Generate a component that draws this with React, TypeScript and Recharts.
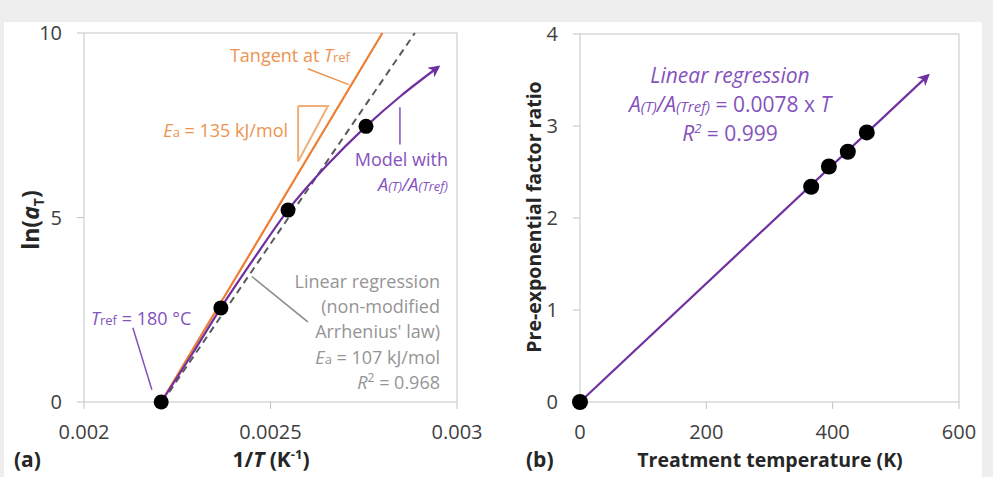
import { ComposedChart, Line, Scatter, XAxis, YAxis, ReferenceLine } from 'recharts'

// panel (a): ln(aT) versus 1/T
const invT = [0.002207, 0.002367, 0.002547, 0.002756]
const lnAT = [0, 2.55, 5.2, 7.47]
const modelInvT = [0.002207, 0.00229, 0.002367, 0.00246, 0.002547, 0.00265, 0.002756, 0.00285, 0.00295]
const modelLnAT = [0, 1.3, 2.55, 3.95, 5.2, 6.4, 7.47, 8.3, 9.08]
const tangentInvT = [0.002207, 0.0028]
const tangentLnAT = [0, 10]
const regInvT = [0.00221, 0.002887]
const regLnAT = [0, 10]
const slopeInvT = [0.002574, 0.002654, 0.002574, 0.002574]
const slopeLnAT = [8.02, 8.02, 6.52, 8.02]
const ticksA_x = [0.002, 0.0025, 0.003]
const ticksA_y = [0, 5, 10]

// panel (b): pre-exponential factor ratio versus treatment temperature
const tempK = [0, 366, 394, 424, 454]
const ratio = [0, 2.34, 2.56, 2.72, 2.93]
const fitTempK = [0, 551]
const fitRatio = [0, 3.55]
const ticksB_x = [0, 200, 400, 600]
const ticksB_y = [0, 1, 2, 3, 4]

const zip = (xs: number[], ys: number[]) => xs.map((x, i) => ({ x, y: ys[i] }))

const FONT = '"Open Sans", sans-serif'
const PURPLE = '#7030A0'
const PURPLE_TXT = '#8452BC'
const ORANGE = '#ED7D31'
const ORANGE_TXT = '#EC9450'
const GREY_TXT = '#959595'
const BORDER = '#c4c4c4'
const tickStyle = { fontSize: 20, fill: '#404040', fontFamily: FONT }

const dotShape = (r: number) => (p: any) => <circle cx={p.cx} cy={p.cy} r={r} fill="#000" />

function PanelA() {
  return (
    <ComposedChart width={490} height={477} margin={{ top: 33, right: 33, left: 0, bottom: 35 }}>
      <defs>
        <marker id="arrowA" viewBox="0 0 10 10" refX="8" refY="5" markerUnits="userSpaceOnUse"
          markerWidth="15" markerHeight="12" orient="auto">
          <path d="M0,0 L10,5 L0,10 L3,5 z" fill={PURPLE} />
        </marker>
      </defs>
      <XAxis type="number" dataKey="x" domain={[0.002, 0.003]} ticks={ticksA_x} tickFormatter={(v) => String(v)}
        height={40} tickSize={7} tickMargin={16} tick={tickStyle}
        axisLine={{ stroke: BORDER }} tickLine={{ stroke: BORDER }} />
      <YAxis type="number" domain={[0, 10]} ticks={ticksA_y} width={84} tickSize={7} tickMargin={15}
        tick={tickStyle} axisLine={{ stroke: BORDER }} tickLine={{ stroke: BORDER }} />
      <ReferenceLine y={10} stroke={BORDER} />
      <ReferenceLine x={0.003} stroke={BORDER} />

      <Line data={zip(regInvT, regLnAT)} dataKey="y" stroke="#595959" strokeWidth={2}
        strokeDasharray="7 5" dot={false} isAnimationActive={false} />
      <Line data={zip(tangentInvT, tangentLnAT)} dataKey="y" stroke={ORANGE} strokeWidth={2.2}
        dot={false} isAnimationActive={false} />
      <Line data={zip(slopeInvT, slopeLnAT)} dataKey="y" stroke="#F2AE78" strokeWidth={2}
        dot={false} isAnimationActive={false} />
      <Line data={zip(modelInvT, modelLnAT)} dataKey="y" type="monotone" stroke={PURPLE} strokeWidth={2.2}
        dot={false} markerEnd="url(#arrowA)" isAnimationActive={false} />
      <Scatter data={zip(invT, lnAT)} dataKey="y" shape={dotShape(7.5)} isAnimationActive={false} />

      <ReferenceLine segment={[{ x: 0.0026, y: 9.03 }, { x: 0.00271, y: 8.6 }]} stroke={ORANGE_TXT} strokeWidth={1.5} />
      <ReferenceLine segment={[{ x: 0.002847, y: 7.99 }, { x: 0.002847, y: 6.98 }]} stroke={PURPLE_TXT} strokeWidth={1.5} />
      <ReferenceLine segment={[{ x: 0.00245, y: 3.4 }, { x: 0.0026, y: 2.17 }]} stroke="#8a8a8a" strokeWidth={1.5} />
      <ReferenceLine segment={[{ x: 0.002131, y: 2.01 }, { x: 0.002182, y: 0.33 }]} stroke={PURPLE_TXT} strokeWidth={1.5} />

      <g fontFamily={FONT} fontSize={18}>
        <text x={350} y={62} textAnchor="end" fill={ORANGE_TXT}>
          Tangent at <tspan fontStyle="italic">T</tspan><tspan fontSize={13}>ref</tspan>
        </text>
        <text x={288} y={137} textAnchor="end" fill={ORANGE_TXT}>
          <tspan fontStyle="italic">E</tspan><tspan fontSize={13}>a</tspan> = 135 kJ/mol
        </text>
        <text x={448} y={166} textAnchor="end" fill={PURPLE_TXT}>Model with</text>
        <text x={448} y={191} textAnchor="end" fill={PURPLE_TXT} fontStyle="italic">
          A<tspan fontSize={13}>(T)</tspan>/A<tspan fontSize={13}>(Tref)</tspan>
        </text>
        <text x={440} y={288} textAnchor="end" fill={GREY_TXT}>Linear regression</text>
        <text x={440} y={313} textAnchor="end" fill={GREY_TXT}>(non-modified</text>
        <text x={440} y={338} textAnchor="end" fill={GREY_TXT}>Arrhenius' law)</text>
        <text x={440} y={364} textAnchor="end" fill={GREY_TXT}>
          <tspan fontStyle="italic">E</tspan><tspan fontSize={13}>a</tspan> = 107 kJ/mol
        </text>
        <text x={440} y={389} textAnchor="end" fill={GREY_TXT}>
          <tspan fontStyle="italic">R</tspan><tspan fontSize={12} dy={-7}>2</tspan><tspan dy={7}> = 0.968</tspan>
        </text>
        <text x={91} y={325} fill={PURPLE_TXT}>
          <tspan fontStyle="italic">T</tspan><tspan fontSize={13}>ref</tspan> = 180 °C
        </text>
      </g>

      <g fontFamily={FONT} fontWeight="bold" fontSize={21} fill="#262626">
        <text x={14} y={467}>(a)</text>
        <text x={271} y={467} textAnchor="middle">
          1/<tspan fontStyle="italic">T</tspan> (K<tspan fontSize={13} dy={-8}>-1</tspan><tspan dy={8}>)</tspan>
        </text>
        <text x={39} y={220} textAnchor="middle" fontSize={23} transform="rotate(-90 39 220)">
          ln(<tspan fontStyle="italic">a</tspan><tspan fontSize={14} dy={5}>T</tspan><tspan dy={-5}>)</tspan>
        </text>
      </g>
    </ComposedChart>
  )
}

function PanelB() {
  return (
    <ComposedChart width={503} height={477} margin={{ top: 34, right: 34, left: 0, bottom: 35 }}>
      <defs>
        <marker id="arrowB" viewBox="0 0 10 10" refX="8" refY="5" markerUnits="userSpaceOnUse"
          markerWidth="15" markerHeight="12" orient="auto">
          <path d="M0,0 L10,5 L0,10 L3,5 z" fill={PURPLE} />
        </marker>
      </defs>
      <XAxis type="number" dataKey="x" domain={[0, 600]} ticks={ticksB_x} height={40} tickSize={7} tickMargin={16}
        tick={tickStyle} axisLine={{ stroke: BORDER }} tickLine={{ stroke: BORDER }} />
      <YAxis type="number" domain={[0, 4]} ticks={ticksB_y} width={90} tickSize={7} tickMargin={15}
        tick={tickStyle} axisLine={{ stroke: BORDER }} tickLine={{ stroke: BORDER }} />
      <ReferenceLine y={4} stroke={BORDER} />
      <ReferenceLine x={600} stroke={BORDER} />

      <Line data={zip(fitTempK, fitRatio)} dataKey="y" stroke={PURPLE} strokeWidth={2.2}
        dot={false} markerEnd="url(#arrowB)" isAnimationActive={false} />
      <Scatter data={zip(tempK, ratio)} dataKey="y" shape={dotShape(8)} isAnimationActive={false} />

      <g fontFamily={FONT} fontSize={21} fill={PURPLE_TXT} fontStyle="italic" textAnchor="middle">
        <text x={240} y={83}>Linear regression</text>
        <text x={240} y={112}>
          <tspan>A</tspan><tspan fontSize={15}>(T)</tspan><tspan>/A</tspan><tspan fontSize={15}>(Tref)</tspan>
          <tspan fontStyle="normal"> = 0.0078 x </tspan><tspan>T</tspan>
        </text>
        <text x={240} y={141}>
          <tspan>R</tspan><tspan fontSize={13} dy={-8}>2</tspan><tspan dy={8} fontStyle="normal"> = 0.999</tspan>
        </text>
      </g>

      <g fontFamily={FONT} fontWeight="bold" fontSize={19.5} fill="#262626">
        <text x={36} y={467} fontSize={21}>(b)</text>
        <text x={280} y={467} textAnchor="middle">Treatment temperature (K)</text>
        <text x={51} y={217} textAnchor="middle" transform="rotate(-90 51 217)">Pre-exponential factor ratio</text>
      </g>
    </ComposedChart>
  )
}

export default function App() {
  return (
    <div style={{ position: 'absolute', left: 0, top: 0, width: 993, height: 477, background: '#eeeeee', overflow: 'hidden' }}>
      <div style={{ position: 'absolute', left: 4, top: 22, width: 978, height: 455, background: '#fff' }} />
      <div style={{ position: 'absolute', left: 0, top: 0 }}>
        <PanelA />
      </div>
      <div style={{ position: 'absolute', left: 490, top: 0 }}>
        <PanelB />
      </div>
    </div>
  )
}
